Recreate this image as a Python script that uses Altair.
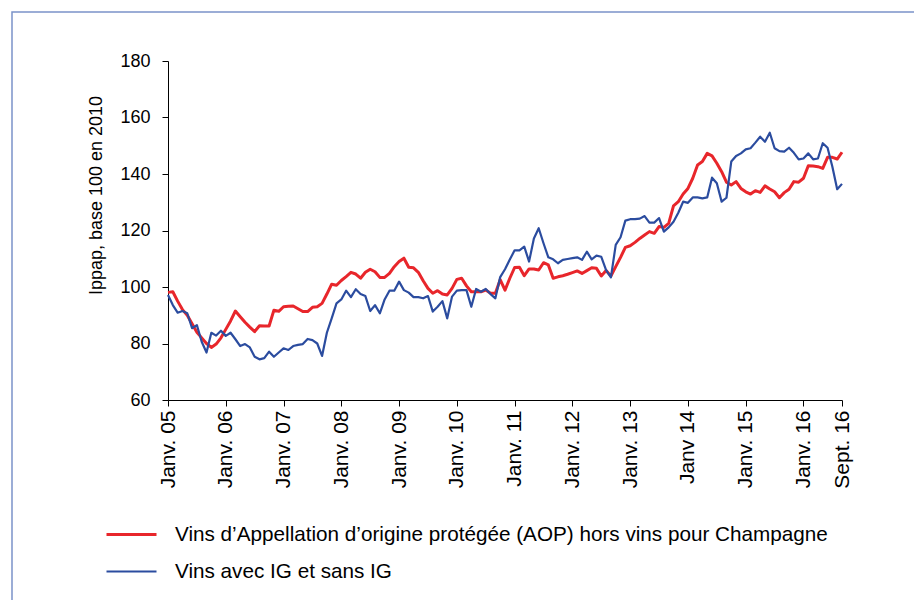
import altair as alt
import pandas as pd

# Monthly index: 0 = Janv. 2005 ... 140 = Sept. 2016
months = list(range(141))

aop = [98.1, 98.3, 95.0, 92.0, 90.0, 87.0, 84.0, 82.0, 80.0, 78.6,
       79.8, 82.0, 85.0, 88.0, 91.5, 89.5, 87.5, 85.8, 84.2, 86.3,
       86.2, 86.2, 91.8, 91.4, 93.0, 93.2, 93.3, 92.3, 91.3, 91.3,
       92.8, 93.0, 94.2, 97.5, 101.0, 100.6, 102.3, 103.7, 105.2, 104.6,
       103.1, 105.2, 106.3, 105.4, 103.4, 103.4, 104.8, 107.2, 109.0, 110.2,
       107.0, 106.8, 105.2, 102.2, 99.5, 97.8, 98.7, 97.5, 97.2, 99.5,
       102.7, 103.1, 100.4, 98.3, 98.3, 98.3, 98.9, 97.8, 97.8, 102.6,
       98.9, 103.1, 106.9, 107.0, 104.0, 106.4, 106.4, 106.0, 108.6, 107.8,
       103.1, 103.6, 104.0, 104.5, 105.1, 105.7, 104.8, 105.8, 106.8, 106.6,
       103.9, 105.8, 103.9, 107.2, 110.5, 114.0, 114.6, 115.8, 117.2, 118.4,
       119.6, 119.0, 121.4, 121.1, 122.5, 128.7, 130.2, 132.9, 134.9, 138.5,
       143.2, 144.4, 147.3, 146.4, 143.8, 140.8, 137.1, 136.1, 137.3, 134.9,
       133.7, 132.9, 134.1, 133.5, 135.8, 134.7, 133.7, 131.6, 133.4, 134.6,
       137.3, 137.1, 138.5, 142.9, 142.8, 142.6, 142.0, 145.9, 145.9, 145.3,
       147.7]

ig = [97.2, 93.6, 90.9, 91.5, 90.7, 85.4, 86.5, 80.6, 76.8, 83.8,
      82.8, 84.5, 82.7, 83.8, 81.5, 79.1, 79.8, 78.6, 75.3, 74.4,
      74.8, 77.1, 75.3, 76.8, 78.3, 77.7, 79.1, 79.5, 79.8, 81.6,
      81.2, 80.0, 75.6, 83.8, 88.9, 94.2, 95.6, 98.7, 96.4, 99.2,
      97.5, 96.8, 91.5, 93.6, 90.7, 95.6, 98.7, 98.7, 101.9, 98.9,
      98.0, 96.4, 96.4, 96.0, 96.8, 91.3, 93.0, 95.0, 88.9, 96.6,
      98.7, 98.9, 98.9, 93.0, 99.3, 98.3, 99.3, 97.5, 96.0, 103.5,
      106.3, 109.7, 113.0, 113.0, 114.3, 109.0, 117.2, 120.8, 115.5, 110.5,
      109.8, 108.4, 109.6, 109.9, 110.2, 110.5, 109.6, 112.5, 109.8, 111.1,
      110.7, 106.0, 103.4, 114.9, 117.6, 123.5, 124.0, 124.0, 124.2, 125.1,
      122.8, 122.8, 124.4, 119.6, 121.1, 123.1, 126.3, 130.2, 129.8, 131.7,
      131.7, 131.4, 131.7, 138.7, 136.7, 130.2, 131.6, 144.4, 146.4, 147.3,
      148.7, 149.1, 151.1, 153.2, 151.4, 154.6, 149.1, 148.1, 147.9, 149.3,
      147.5, 145.2, 145.5, 147.3, 145.2, 145.5, 150.9, 149.3, 142.6, 134.6,
      136.5]

series_names = [
    "Vins d\u2019Appellation d\u2019origine protégée (AOP) hors vins pour Champagne",
    "Vins avec IG et sans IG",
]
series_colors = ["#e8262b", "#2b4c9f"]

tick_months = [0, 12, 24, 36, 48, 60, 72, 84, 96, 108, 120, 132, 140]
tick_labels = ["Janv. 05", "Janv. 06", "Janv. 07", "Janv. 08", "Janv. 09",
               "Janv. 10", "Janv. 11", "Janv. 12", "Janv. 13", "Janv 14",
               "Janv. 15", "Janv. 16", "Sept. 16"]
y_ticks = [60, 80, 100, 120, 140, 160, 180]

df = pd.DataFrame({
    "m": months * 2,
    "v": aop + ig,
    "s": [series_names[0]] * len(aop) + [series_names[1]] * len(ig),
})

label_map = "{" + ",".join(f"'{m}':'{l}'" for m, l in zip(tick_months, tick_labels)) + "}"
label_expr = f"{label_map}[''+datum.value]"

FONT = "Liberation Sans"

lines = alt.Chart(df).mark_line(strokeJoin="round").encode(
    x=alt.X("m:Q",
            scale=alt.Scale(domain=[0, 140], nice=False, zero=False),
            axis=alt.Axis(values=tick_months, labelExpr=label_expr, labelAngle=-90,
                          title=None, grid=False, labelPadding=4, labelFontSize=21)),
    y=alt.Y("v:Q",
            scale=alt.Scale(domain=[60, 180], nice=False, zero=False),
            axis=alt.Axis(values=y_ticks, title="Ippap, base 100 en 2010", grid=False,
                          labelPadding=12, labelFontSize=18, titlePadding=14,
                          titleY=134, titleFontWeight="normal", titleFontSize=18)),
    color=alt.Color("s:N",
                    scale=alt.Scale(domain=series_names, range=series_colors),
                    sort=series_names,
                    legend=alt.Legend(orient="none", legendX=-63, legendY=447,
                                      title=None, symbolType="stroke", symbolSize=2500,
                                      symbolStrokeWidth=2.5, labelFontSize=20.7,
                                      labelFont=FONT, labelColor="black",
                                      labelOffset=17, rowPadding=0, labelLimit=0)),
    strokeWidth=alt.StrokeWidth("s:N",
                                scale=alt.Scale(domain=series_names, range=[3, 2.2]),
                                legend=None),
)

frame = alt.Chart(pd.DataFrame({"a": [0]})).mark_rect(
    filled=False, stroke="#7b93c9", strokeWidth=1.5
).encode(
    x=alt.value(-156), y=alt.value(-49), x2=alt.value(900), y2=alt.value(700)
)

chart = alt.layer(frame, lines).properties(
    width=674, height=339,
    autosize=alt.AutoSizeParams(type="none"),
    padding={"left": 160, "top": 53, "right": 72, "bottom": 200},
).configure_view(stroke=None).configure_axis(
    domainColor="black", tickColor="black", labelColor="black", titleColor="black",
    labelFont=FONT, titleFont=FONT, tickSize=6, domainWidth=1,
)

chart.save("out.html", embed_options={"renderer": "svg", "actions": False})
